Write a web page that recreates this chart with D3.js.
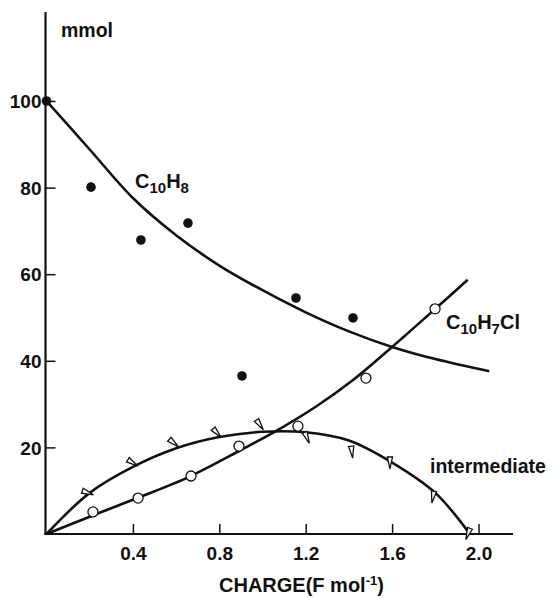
<!DOCTYPE html>
<html><head><meta charset="utf-8">
<script src="https://cdn.jsdelivr.net/npm/d3@7"></script>
<style>body{margin:0;background:#fff}svg text{font-family:"Liberation Sans",Arial,sans-serif;font-weight:bold;fill:#111}</style>
</head><body><svg id="c" width="552" height="598"></svg>
<script>
// Data
const xTicks = [0.4, 0.8, 1.2, 1.6, 2.0];
const yTicks = [20, 40, 60, 80, 100];

const naphX = [0, 0.206, 0.437, 0.655, 0.905, 1.155, 1.419];
const naphY = [100, 80.1, 67.9, 71.8, 36.5, 54.5, 49.9];

const chlX = [0.215, 0.424, 0.669, 0.891, 1.164, 1.479, 1.799];
const chlY = [5.1, 8.3, 13.4, 20.3, 24.9, 36.0, 52.0];

const intX = [0.192, 0.40, 0.59, 0.79, 0.988, 1.206, 1.414, 1.590, 1.789, 1.951];
const intY = [9.5, 16.4, 21.0, 23.3, 25.2, 22.2, 18.9, 16.4, 8.5, 0];

// smooth fitted curves (traced)
const naphCurveX = [0, 0.2, 0.4, 0.6, 0.8, 1.0, 1.2, 1.4, 1.6, 1.8, 2.05];
const naphCurveY = [100, 88.8, 77.6, 69, 62, 56.3, 51.2, 46.8, 43.2, 40.4, 37.6];
const chlCurveX = [0, 0.2, 0.4, 0.66, 0.9, 1.07, 1.25, 1.41, 1.6, 1.8, 1.95];
const chlCurveY = [0, 4, 7.9, 13.2, 19.4, 24, 29.5, 35.2, 43.2, 52, 58.7];
const intCurveX = [0, 0.2, 0.4, 0.6, 0.8, 1.0, 1.2, 1.4, 1.6, 1.8, 1.96];
const intCurveY = [0, 9.5, 15.5, 19.8, 22.4, 23.6, 23.5, 21.6, 16.5, 9.5, 0];

const svg = d3.select("#c");
const x = d3.scaleLinear().domain([0, 2]).range([46.5, 478.5]);
const y = d3.scaleLinear().domain([0, 100]).range([534, 101]);

const g = svg.append("g");
// axis lines
g.append("line").attr("x1", x(0) - 1).attr("x2", x(0) - 1).attr("y1", 12).attr("y2", y(0) + 1)
  .attr("stroke", "#111").attr("stroke-width", 2.2);
g.append("line").attr("x1", x(0) - 2).attr("x2", 513).attr("y1", y(0)).attr("y2", y(0))
  .attr("stroke", "#111").attr("stroke-width", 2.2);

const yAx = d3.axisLeft(y).tickValues(yTicks).tickSizeInner(-10).tickSizeOuter(0).tickPadding(4)
  .tickFormat(d3.format("d"));
const ya = g.append("g").attr("transform", `translate(${x(0) - 1},0)`).call(yAx);
ya.select(".domain").remove();
ya.selectAll("line").attr("stroke", "#111").attr("stroke-width", 1.5);
ya.selectAll("text").attr("font-size", 19).attr("dy", "0.35em").attr("font-family", "Liberation Sans").attr("font-weight","bold").attr("fill","#111");

const xAx = d3.axisBottom(x).tickValues(xTicks).tickSizeInner(-10).tickSizeOuter(0).tickPadding(0)
  .tickFormat(d3.format(".1f"));
const xa = g.append("g").attr("transform", `translate(0,${y(0)})`).call(xAx);
xa.select(".domain").remove();
xa.selectAll("line").attr("stroke", "#111").attr("stroke-width", 1.5);
xa.selectAll("text").attr("font-size", 19).attr("y", 26).attr("dy", 0).attr("font-family", "Liberation Sans").attr("font-weight","bold").attr("fill","#111");

// curves
const line = d3.line().x(d => x(d[0])).y(d => y(d[1])).curve(d3.curveCatmullRom.alpha(0.5));
function drawCurve(xs, ys) {
  g.append("path").attr("d", line(xs.map((v, i) => [v, ys[i]])))
    .attr("fill", "none").attr("stroke", "#111").attr("stroke-width", 2.6);
}
drawCurve(naphCurveX, naphCurveY);
drawCurve(chlCurveX, chlCurveY);
drawCurve(intCurveX, intCurveY);

// markers
g.selectAll(".naph").data(naphX.map((v, i) => [v, naphY[i]])).join("circle")
  .attr("cx", d => x(d[0])).attr("cy", d => y(d[1])).attr("r", 4.8).attr("fill", "#111");
g.selectAll(".chl").data(chlX.map((v, i) => [v, chlY[i]])).join("circle")
  .attr("cx", d => x(d[0])).attr("cy", d => y(d[1])).attr("r", 5).attr("fill", "#fff")
  .attr("stroke", "#111").attr("stroke-width", 1.3);

// thin wedge triangles, oriented roughly across the curve
const intLine = intCurveX.map((v, i) => [v, intCurveY[i]]);
function tangentAngle(xv) {
  const h = 0.03;
  const interp = t => {
    for (let i = 0; i < intLine.length - 1; i++) {
      if (t <= intLine[i + 1][0]) {
        const a = intLine[i], b = intLine[i + 1];
        return a[1] + (b[1] - a[1]) * (t - a[0]) / (b[0] - a[0]);
      }
    }
    return intLine[intLine.length - 1][1];
  };
  const x1 = Math.max(0, xv - h), x2 = Math.min(1.96, xv + h);
  const dx = x(x2) - x(x1), dy = y(interp(x2)) - y(interp(x1));
  return Math.atan2(dy, dx) * 180 / Math.PI;
}
g.selectAll(".int").data(intX.map((v, i) => [v, intY[i]])).join("path")
  .attr("d", "M-6,-2.6L6,0L-6,2.6Z")
  .attr("transform", d => `translate(${x(d[0])},${y(d[1])}) rotate(${tangentAngle(d[0]) + 60})`)
  .attr("fill", "#fff").attr("stroke", "#111").attr("stroke-width", 1.3);

// labels
function chemLabel(px, py, parts) {
  const t = svg.append("text").attr("x", px).attr("y", py).attr("font-size", 20);
  parts.forEach(p => {
    if (p.sub) t.append("tspan").attr("font-size", 15).attr("dy", 5).text(p.t);
    else t.append("tspan").attr("dy", p.back ? -5 : 0).text(p.t);
  });
}
chemLabel(135, 188, [{t: "C"}, {t: "10", sub: true}, {t: "H", back: true}, {t: "8", sub: true}]);
chemLabel(446, 329, [{t: "C"}, {t: "10", sub: true}, {t: "H", back: true}, {t: "7", sub: true}, {t: "Cl", back: true}]);
svg.append("text").attr("x", 430).attr("y", 473).attr("font-size", 19.5).text("intermediate");
svg.append("text").attr("x", 61).attr("y", 37).attr("font-size", 19.5).text("mmol");
const xl = svg.append("text").attr("x", 219).attr("y", 592).attr("font-size", 20);
xl.append("tspan").text("CHARGE(F mol");
xl.append("tspan").attr("font-size", 13).attr("dy", -7).text("-1");
xl.append("tspan").attr("dy", 7).text(")");
</script></body></html>
